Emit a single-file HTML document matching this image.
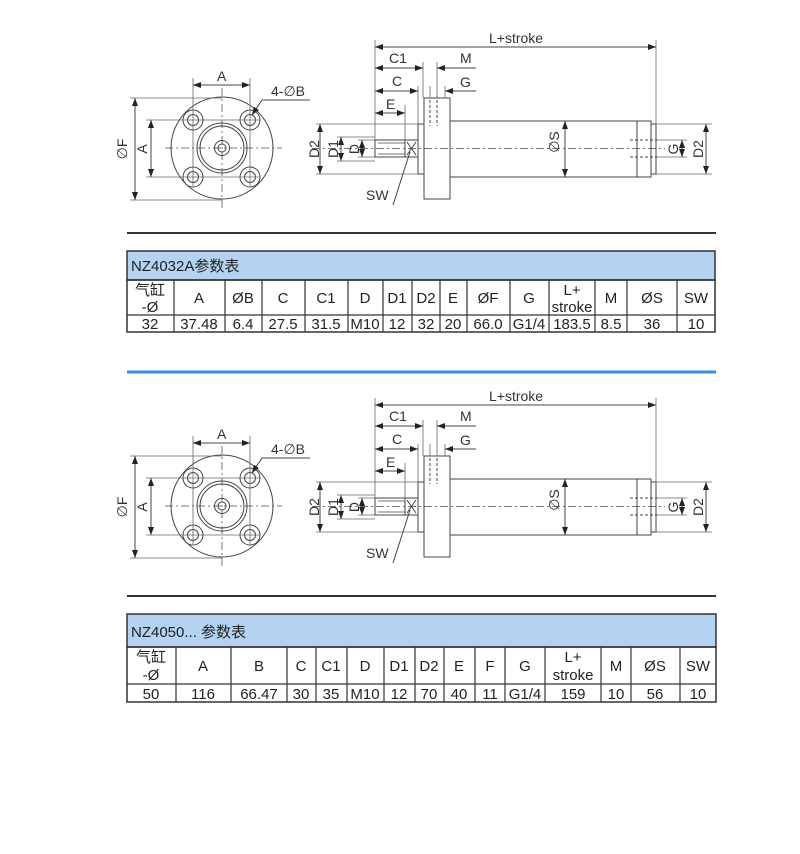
<!DOCTYPE html>
<html><head><meta charset="utf-8"><style>
html,body{margin:0;padding:0;background:#fff;}
svg{display:block;}
.d text{font-family:"Liberation Sans",sans-serif;font-size:14px;fill:#333;}
.t text{font-family:"Liberation Sans","Noto Sans CJK SC",sans-serif;font-size:15px;fill:#222;text-anchor:middle;}
</style></head><body>
<svg width="800" height="854" viewBox="0 0 800 854" xmlns="http://www.w3.org/2000/svg">
<defs>
<marker id="ar" markerUnits="userSpaceOnUse" markerWidth="9" markerHeight="6" refX="8" refY="3" orient="auto-start-reverse"><path d="M0,0 L8,3 L0,6 z" fill="#222"/></marker>
</defs>

<g id="dr" class="d" fill="none" stroke="#444" stroke-width="1">
 <g stroke-dasharray="8,3,2,3" stroke="#777">
  <line x1="165" y1="148" x2="282" y2="148"/>
  <line x1="222" y1="88" x2="222" y2="210"/>
 </g>
 <circle cx="222" cy="148" r="51"/>
 <circle cx="222" cy="148" r="25"/>
 <circle cx="222" cy="148" r="22"/>
 <circle cx="222" cy="148" r="7.5"/>
 <circle cx="222" cy="148" r="4"/>
 <g>
  <circle cx="193" cy="120" r="10"/><circle cx="193" cy="120" r="5.5"/>
  <circle cx="250" cy="120" r="10"/><circle cx="250" cy="120" r="5.5"/>
  <circle cx="193" cy="177" r="10"/><circle cx="193" cy="177" r="5.5"/>
  <circle cx="250" cy="177" r="10"/><circle cx="250" cy="177" r="5.5"/>
 </g>
 <g stroke="#666" stroke-width="0.8">
  <line x1="193" y1="78" x2="193" y2="186"/>
  <line x1="250" y1="78" x2="250" y2="186"/>
  <line x1="146" y1="120" x2="260" y2="120"/>
  <line x1="146" y1="177" x2="260" y2="177"/>
  <line x1="130" y1="98" x2="222" y2="98"/>
  <line x1="130" y1="200" x2="222" y2="200"/>
 </g>
 <line x1="135" y1="98" x2="135" y2="200" marker-start="url(#ar)" marker-end="url(#ar)"/>
 <line x1="151" y1="120" x2="151" y2="177" marker-start="url(#ar)" marker-end="url(#ar)"/>
 <line x1="193" y1="85" x2="250" y2="85" marker-start="url(#ar)" marker-end="url(#ar)"/>
 <polyline points="262,100 310,100"/>
 <line x1="262" y1="100" x2="252" y2="115" marker-end="url(#ar)"/>
 <text x="217" y="81" stroke="none">A</text>
 <text x="271" y="96" stroke="none">4-∅B</text>
 <text transform="translate(127,149) rotate(-90)" text-anchor="middle" stroke="none">∅F</text>
 <text transform="translate(147,149) rotate(-90)" text-anchor="middle" stroke="none">A</text>

 <line x1="312" y1="148.5" x2="665" y2="148.5" stroke="#777" stroke-dasharray="8,3,2,3"/>
 <rect x="375" y="140" width="30" height="17"/>
 <line x1="378" y1="143" x2="405" y2="143" stroke-width="0.7"/>
 <line x1="378" y1="154" x2="405" y2="154" stroke-width="0.7"/>
 <rect x="405" y="140" width="13" height="17"/>
 <line x1="407" y1="142" x2="416" y2="155"/><line x1="416" y1="142" x2="407" y2="155"/>
 <rect x="418" y="124" width="6" height="50"/>
 <rect x="424" y="98" width="26" height="101"/>
 <line x1="430" y1="100" x2="430" y2="126" stroke-dasharray="3,2"/>
 <line x1="437" y1="100" x2="437" y2="126" stroke-dasharray="3,2"/>
 <rect x="450" y="121" width="201" height="56"/>
 <line x1="637" y1="121" x2="637" y2="177"/>
 <rect x="651" y="124" width="5" height="50"/>
 <line x1="630" y1="140" x2="660" y2="140" stroke-dasharray="3,2"/>
 <line x1="630" y1="157" x2="660" y2="157" stroke-dasharray="3,2"/>

 <g stroke="#666" stroke-width="0.8">
  <line x1="375" y1="40" x2="375" y2="140"/>
  <line x1="656" y1="40" x2="656" y2="124"/>
  <line x1="423" y1="62" x2="423" y2="98"/>
  <line x1="437" y1="62" x2="437" y2="98"/>
  <line x1="418" y1="86" x2="418" y2="124"/>
  <line x1="430" y1="86" x2="430" y2="98"/>
  <line x1="445" y1="86" x2="445" y2="98"/>
  <line x1="405" y1="105" x2="405" y2="140"/>
  <line x1="316" y1="124" x2="418" y2="124"/>
  <line x1="316" y1="174" x2="418" y2="174"/>
  <line x1="337" y1="137" x2="375" y2="137"/>
  <line x1="337" y1="161" x2="375" y2="161"/>
  <line x1="358" y1="140" x2="375" y2="140"/>
  <line x1="358" y1="157" x2="375" y2="157"/>
  <line x1="656" y1="140" x2="687" y2="140"/>
  <line x1="656" y1="157" x2="687" y2="157"/>
  <line x1="656" y1="124" x2="712" y2="124"/>
  <line x1="656" y1="174" x2="712" y2="174"/>
 </g>
 <line x1="375" y1="47" x2="656" y2="47" marker-start="url(#ar)" marker-end="url(#ar)"/>
 <line x1="375" y1="68" x2="423" y2="68" marker-start="url(#ar)" marker-end="url(#ar)"/>
 <line x1="476" y1="68" x2="437" y2="68" marker-end="url(#ar)"/>
 <line x1="375" y1="91" x2="418" y2="91" marker-start="url(#ar)" marker-end="url(#ar)"/>
 <line x1="476" y1="91" x2="445" y2="91" marker-end="url(#ar)"/>
 <line x1="375" y1="113" x2="405" y2="113" marker-start="url(#ar)" marker-end="url(#ar)"/>
 <line x1="320" y1="124" x2="320" y2="174" marker-start="url(#ar)" marker-end="url(#ar)"/>
 <line x1="341" y1="137" x2="341" y2="161" marker-start="url(#ar)" marker-end="url(#ar)"/>
 <line x1="362" y1="140" x2="362" y2="157" marker-start="url(#ar)" marker-end="url(#ar)"/>
 <line x1="565" y1="121" x2="565" y2="177" marker-start="url(#ar)" marker-end="url(#ar)"/>
 <line x1="682" y1="140" x2="682" y2="157" marker-start="url(#ar)" marker-end="url(#ar)"/>
 <line x1="706" y1="124" x2="706" y2="174" marker-start="url(#ar)" marker-end="url(#ar)"/>
 <line x1="410" y1="152" x2="393" y2="205"/>
 <g stroke="none">
  <text x="489" y="43">L+stroke</text>
  <text x="389" y="63">C1</text>
  <text x="460" y="63">M</text>
  <text x="392" y="86">C</text>
  <text x="460" y="87">G</text>
  <text x="386" y="109">E</text>
  <text x="366" y="200">SW</text>
  <text transform="translate(319,149) rotate(-90)" text-anchor="middle">D2</text>
  <text transform="translate(338,149) rotate(-90)" text-anchor="middle">D1</text>
  <text transform="translate(359,149) rotate(-90)" text-anchor="middle">D</text>
  <text transform="translate(559,142) rotate(-90)" text-anchor="middle">∅S</text>
  <text transform="translate(678,149) rotate(-90)" text-anchor="middle">G</text>
  <text transform="translate(703,149) rotate(-90)" text-anchor="middle">D2</text>
 </g>
</g>

<g class="d" fill="none" stroke="#444" stroke-width="1" transform="translate(0,358)">
 <g stroke-dasharray="8,3,2,3" stroke="#777">
  <line x1="165" y1="148" x2="282" y2="148"/>
  <line x1="222" y1="88" x2="222" y2="210"/>
 </g>
 <circle cx="222" cy="148" r="51"/>
 <circle cx="222" cy="148" r="25"/>
 <circle cx="222" cy="148" r="22"/>
 <circle cx="222" cy="148" r="7.5"/>
 <circle cx="222" cy="148" r="4"/>
 <g>
  <circle cx="193" cy="120" r="10"/><circle cx="193" cy="120" r="5.5"/>
  <circle cx="250" cy="120" r="10"/><circle cx="250" cy="120" r="5.5"/>
  <circle cx="193" cy="177" r="10"/><circle cx="193" cy="177" r="5.5"/>
  <circle cx="250" cy="177" r="10"/><circle cx="250" cy="177" r="5.5"/>
 </g>
 <g stroke="#666" stroke-width="0.8">
  <line x1="193" y1="78" x2="193" y2="186"/>
  <line x1="250" y1="78" x2="250" y2="186"/>
  <line x1="146" y1="120" x2="260" y2="120"/>
  <line x1="146" y1="177" x2="260" y2="177"/>
  <line x1="130" y1="98" x2="222" y2="98"/>
  <line x1="130" y1="200" x2="222" y2="200"/>
 </g>
 <line x1="135" y1="98" x2="135" y2="200" marker-start="url(#ar)" marker-end="url(#ar)"/>
 <line x1="151" y1="120" x2="151" y2="177" marker-start="url(#ar)" marker-end="url(#ar)"/>
 <line x1="193" y1="85" x2="250" y2="85" marker-start="url(#ar)" marker-end="url(#ar)"/>
 <polyline points="262,100 310,100"/>
 <line x1="262" y1="100" x2="252" y2="115" marker-end="url(#ar)"/>
 <text x="217" y="81" stroke="none">A</text>
 <text x="271" y="96" stroke="none">4-∅B</text>
 <text transform="translate(127,149) rotate(-90)" text-anchor="middle" stroke="none">∅F</text>
 <text transform="translate(147,149) rotate(-90)" text-anchor="middle" stroke="none">A</text>

 <line x1="312" y1="148.5" x2="665" y2="148.5" stroke="#777" stroke-dasharray="8,3,2,3"/>
 <rect x="375" y="140" width="30" height="17"/>
 <line x1="378" y1="143" x2="405" y2="143" stroke-width="0.7"/>
 <line x1="378" y1="154" x2="405" y2="154" stroke-width="0.7"/>
 <rect x="405" y="140" width="13" height="17"/>
 <line x1="407" y1="142" x2="416" y2="155"/><line x1="416" y1="142" x2="407" y2="155"/>
 <rect x="418" y="124" width="6" height="50"/>
 <rect x="424" y="98" width="26" height="101"/>
 <line x1="430" y1="100" x2="430" y2="126" stroke-dasharray="3,2"/>
 <line x1="437" y1="100" x2="437" y2="126" stroke-dasharray="3,2"/>
 <rect x="450" y="121" width="201" height="56"/>
 <line x1="637" y1="121" x2="637" y2="177"/>
 <rect x="651" y="124" width="5" height="50"/>
 <line x1="630" y1="140" x2="660" y2="140" stroke-dasharray="3,2"/>
 <line x1="630" y1="157" x2="660" y2="157" stroke-dasharray="3,2"/>

 <g stroke="#666" stroke-width="0.8">
  <line x1="375" y1="40" x2="375" y2="140"/>
  <line x1="656" y1="40" x2="656" y2="124"/>
  <line x1="423" y1="62" x2="423" y2="98"/>
  <line x1="437" y1="62" x2="437" y2="98"/>
  <line x1="418" y1="86" x2="418" y2="124"/>
  <line x1="430" y1="86" x2="430" y2="98"/>
  <line x1="445" y1="86" x2="445" y2="98"/>
  <line x1="405" y1="105" x2="405" y2="140"/>
  <line x1="316" y1="124" x2="418" y2="124"/>
  <line x1="316" y1="174" x2="418" y2="174"/>
  <line x1="337" y1="137" x2="375" y2="137"/>
  <line x1="337" y1="161" x2="375" y2="161"/>
  <line x1="358" y1="140" x2="375" y2="140"/>
  <line x1="358" y1="157" x2="375" y2="157"/>
  <line x1="656" y1="140" x2="687" y2="140"/>
  <line x1="656" y1="157" x2="687" y2="157"/>
  <line x1="656" y1="124" x2="712" y2="124"/>
  <line x1="656" y1="174" x2="712" y2="174"/>
 </g>
 <line x1="375" y1="47" x2="656" y2="47" marker-start="url(#ar)" marker-end="url(#ar)"/>
 <line x1="375" y1="68" x2="423" y2="68" marker-start="url(#ar)" marker-end="url(#ar)"/>
 <line x1="476" y1="68" x2="437" y2="68" marker-end="url(#ar)"/>
 <line x1="375" y1="91" x2="418" y2="91" marker-start="url(#ar)" marker-end="url(#ar)"/>
 <line x1="476" y1="91" x2="445" y2="91" marker-end="url(#ar)"/>
 <line x1="375" y1="113" x2="405" y2="113" marker-start="url(#ar)" marker-end="url(#ar)"/>
 <line x1="320" y1="124" x2="320" y2="174" marker-start="url(#ar)" marker-end="url(#ar)"/>
 <line x1="341" y1="137" x2="341" y2="161" marker-start="url(#ar)" marker-end="url(#ar)"/>
 <line x1="362" y1="140" x2="362" y2="157" marker-start="url(#ar)" marker-end="url(#ar)"/>
 <line x1="565" y1="121" x2="565" y2="177" marker-start="url(#ar)" marker-end="url(#ar)"/>
 <line x1="682" y1="140" x2="682" y2="157" marker-start="url(#ar)" marker-end="url(#ar)"/>
 <line x1="706" y1="124" x2="706" y2="174" marker-start="url(#ar)" marker-end="url(#ar)"/>
 <line x1="410" y1="152" x2="393" y2="205"/>
 <g stroke="none">
  <text x="489" y="43">L+stroke</text>
  <text x="389" y="63">C1</text>
  <text x="460" y="63">M</text>
  <text x="392" y="86">C</text>
  <text x="460" y="87">G</text>
  <text x="386" y="109">E</text>
  <text x="366" y="200">SW</text>
  <text transform="translate(319,149) rotate(-90)" text-anchor="middle">D2</text>
  <text transform="translate(338,149) rotate(-90)" text-anchor="middle">D1</text>
  <text transform="translate(359,149) rotate(-90)" text-anchor="middle">D</text>
  <text transform="translate(559,142) rotate(-90)" text-anchor="middle">∅S</text>
  <text transform="translate(678,149) rotate(-90)" text-anchor="middle">G</text>
  <text transform="translate(703,149) rotate(-90)" text-anchor="middle">D2</text>
 </g>
</g>

<line x1="127" y1="233" x2="716" y2="233" stroke="#333" stroke-width="2"/>
<line x1="127" y1="372" x2="716" y2="372" stroke="#3a8ee6" stroke-width="3"/>
<line x1="127" y1="596" x2="716" y2="596" stroke="#333" stroke-width="2"/>

<g class="t">
 <rect x="127" y="251" width="588" height="29" fill="#b3d3f0" stroke="#333" stroke-width="1.5"/>
 <rect x="127" y="280" width="588" height="52" fill="none" stroke="#333" stroke-width="1.5"/>
 <line x1="127" y1="315" x2="715" y2="315" stroke="#333" stroke-width="1.2"/>
 <g stroke="#333" stroke-width="1.2">
  <line x1="174" y1="280" x2="174" y2="332"/><line x1="225" y1="280" x2="225" y2="332"/>
  <line x1="262" y1="280" x2="262" y2="332"/><line x1="305" y1="280" x2="305" y2="332"/>
  <line x1="348" y1="280" x2="348" y2="332"/><line x1="383" y1="280" x2="383" y2="332"/>
  <line x1="412" y1="280" x2="412" y2="332"/><line x1="440" y1="280" x2="440" y2="332"/>
  <line x1="467" y1="280" x2="467" y2="332"/><line x1="510" y1="280" x2="510" y2="332"/>
  <line x1="549" y1="280" x2="549" y2="332"/><line x1="595" y1="280" x2="595" y2="332"/>
  <line x1="627" y1="280" x2="627" y2="332"/><line x1="677" y1="280" x2="677" y2="332"/>
 </g>
 <text x="131" y="271" style="text-anchor:start;font-size:15px">NZ4032A参数表</text>
 <text x="150" y="295">气缸</text><text x="150" y="312">-Ø</text>
 <text x="199" y="303">A</text><text x="243" y="303">ØB</text><text x="283" y="303">C</text>
 <text x="326" y="303">C1</text><text x="365" y="303">D</text><text x="397" y="303">D1</text>
 <text x="426" y="303">D2</text><text x="453" y="303">E</text><text x="488" y="303">ØF</text>
 <text x="529" y="303">G</text><text x="572" y="295">L+</text><text x="572" y="312">stroke</text>
 <text x="611" y="303">M</text><text x="652" y="303">ØS</text><text x="696" y="303">SW</text>
 <text x="150" y="329">32</text><text x="199" y="329">37.48</text><text x="243" y="329">6.4</text>
 <text x="283" y="329">27.5</text><text x="326" y="329">31.5</text><text x="365" y="329">M10</text>
 <text x="397" y="329">12</text><text x="426" y="329">32</text><text x="453" y="329">20</text>
 <text x="488" y="329">66.0</text><text x="529" y="329">G1/4</text><text x="572" y="329">183.5</text>
 <text x="611" y="329">8.5</text><text x="652" y="329">36</text><text x="696" y="329">10</text>
</g>

<g class="t">
 <rect x="127" y="614" width="589" height="33" fill="#b3d3f0" stroke="#333" stroke-width="1.5"/>
 <rect x="127" y="647" width="589" height="55" fill="none" stroke="#333" stroke-width="1.5"/>
 <line x1="127" y1="684" x2="716" y2="684" stroke="#333" stroke-width="1.2"/>
 <g stroke="#333" stroke-width="1.2">
  <line x1="176" y1="647" x2="176" y2="702"/><line x1="231" y1="647" x2="231" y2="702"/>
  <line x1="287" y1="647" x2="287" y2="702"/><line x1="316" y1="647" x2="316" y2="702"/>
  <line x1="347" y1="647" x2="347" y2="702"/><line x1="384" y1="647" x2="384" y2="702"/>
  <line x1="415" y1="647" x2="415" y2="702"/><line x1="444" y1="647" x2="444" y2="702"/>
  <line x1="475" y1="647" x2="475" y2="702"/><line x1="505" y1="647" x2="505" y2="702"/>
  <line x1="545" y1="647" x2="545" y2="702"/><line x1="601" y1="647" x2="601" y2="702"/>
  <line x1="631" y1="647" x2="631" y2="702"/><line x1="680" y1="647" x2="680" y2="702"/>
 </g>
 <text x="131" y="637" style="text-anchor:start;font-size:15px">NZ4050... 参数表</text>
 <text x="151" y="662">气缸</text><text x="151" y="680">-Ø</text>
 <text x="203" y="671">A</text><text x="259" y="671">B</text><text x="301" y="671">C</text>
 <text x="331" y="671">C1</text><text x="365" y="671">D</text><text x="399" y="671">D1</text>
 <text x="429" y="671">D2</text><text x="459" y="671">E</text><text x="490" y="671">F</text>
 <text x="525" y="671">G</text><text x="573" y="662">L+</text><text x="573" y="680">stroke</text>
 <text x="616" y="671">M</text><text x="655" y="671">ØS</text><text x="698" y="671">SW</text>
 <text x="151" y="699">50</text><text x="203" y="699">116</text><text x="259" y="699">66.47</text>
 <text x="301" y="699">30</text><text x="331" y="699">35</text><text x="365" y="699">M10</text>
 <text x="399" y="699">12</text><text x="429" y="699">70</text><text x="459" y="699">40</text>
 <text x="490" y="699">11</text><text x="525" y="699">G1/4</text><text x="573" y="699">159</text>
 <text x="616" y="699">10</text><text x="655" y="699">56</text><text x="698" y="699">10</text>
</g>
</svg>
</body></html>
